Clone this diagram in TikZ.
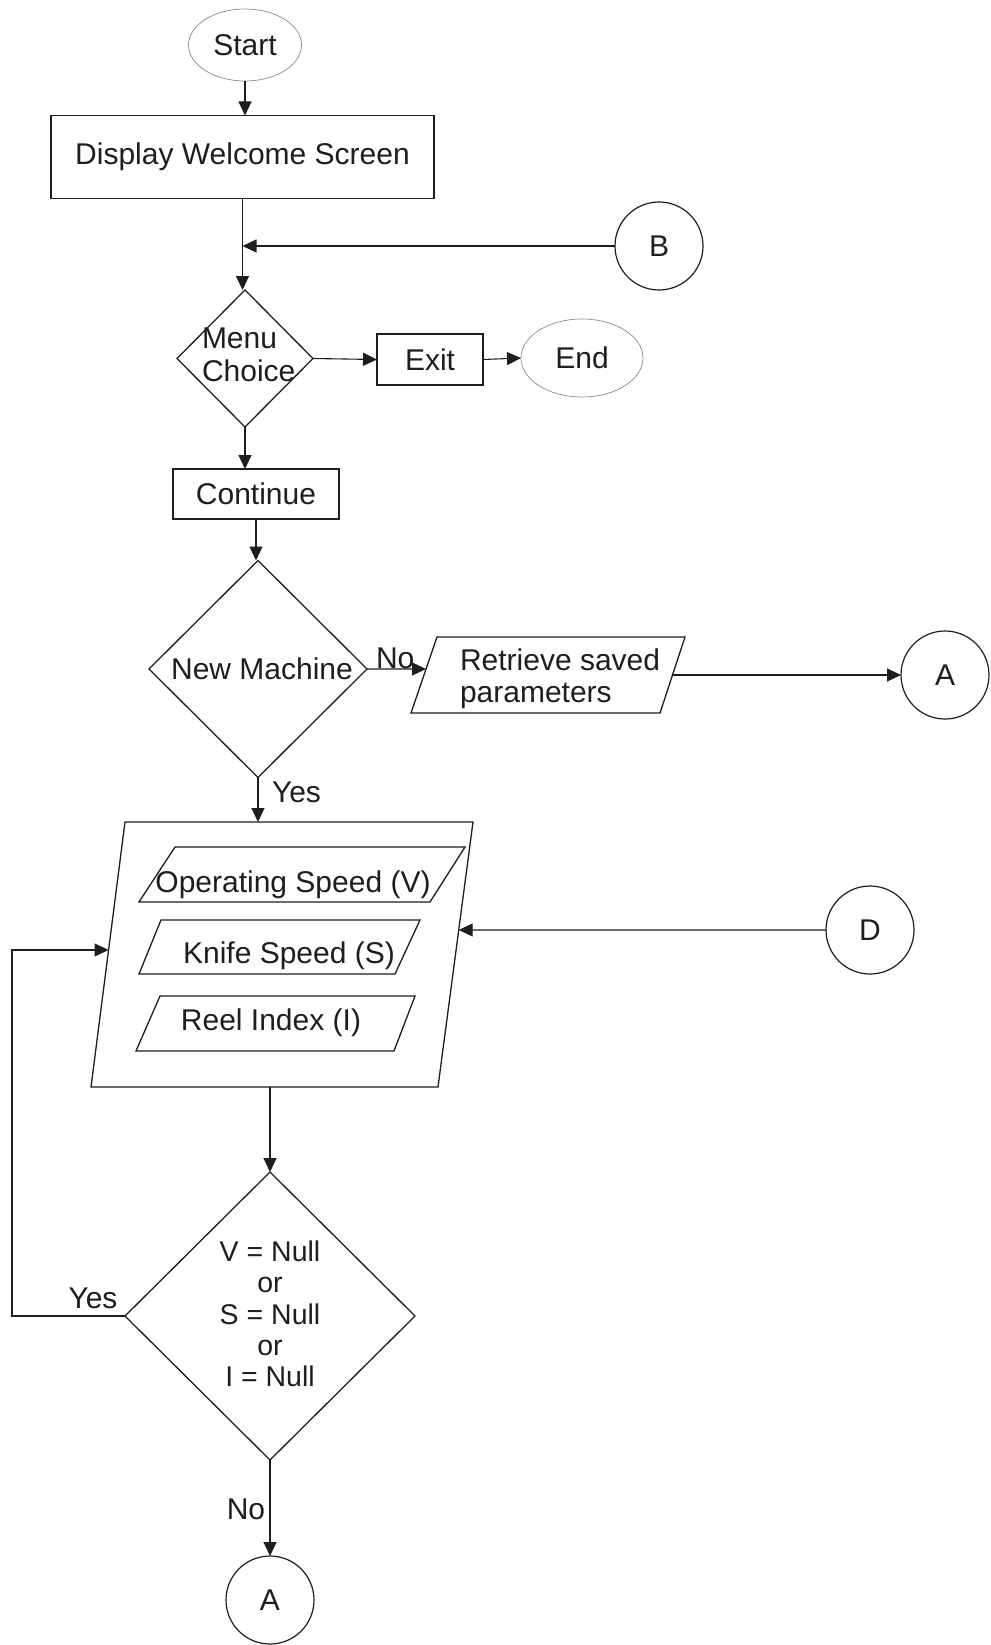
\documentclass[tikz,border=0pt]{standalone}
\usepackage{fontspec}
\setmainfont{Liberation Sans}
\usetikzlibrary{shapes.geometric,arrows.meta,calc}
\definecolor{linec}{RGB}{30,30,30}
\definecolor{txtc}{RGB}{30,30,30}
\definecolor{ovalc}{RGB}{140,140,140}
\newcommand\lbfont{\fontsize{30}{32.5}\selectfont}
\begin{document}
\begin{tikzpicture}[x=1pt,y=-1pt,
  every node/.style={inner sep=0pt, outer sep=0pt, text=txtc, font=\lbfont},
  boxnode/.style={draw=linec, line width=1.4pt, rectangle},
  oval/.style={draw=ovalc, line width=0.7pt, ellipse},
  decision/.style={draw=linec, line width=1.3pt, diamond},
  paraline/.style={draw=linec, line width=1.3pt, line join=miter},
  connc/.style={draw=linec, line width=1.2pt, circle, minimum size=88pt},
  conn/.style={draw=linec, line width=1.1pt},
  arr/.style={conn, -{Triangle[length=14pt, width=13pt]}}
]
\fill[white] (0,0) rectangle (990,1645);
\useasboundingbox (0,0) rectangle (990,1645);

% top part
\node[oval, minimum width=113pt, minimum height=72pt] (start) at (245,45) {Start};
\node[boxnode, minimum width=383pt, minimum height=83pt] (disp) at (242.5,157) {Display Welcome Screen};
\node[connc] (B) at (659,246) {B};
\node[decision, minimum width=136pt, minimum height=137pt] (menu) at (245,358.5) {};
\node[anchor=west, align=left] (menutxt) at (202,355) {Menu\\Choice};
\node[boxnode, minimum width=106pt, minimum height=51pt] (exit) at (430,359.5) {Exit};
\node[oval, minimum width=122pt, minimum height=78pt] (end) at (582,358) {End};
\node[boxnode, minimum width=166pt, minimum height=50pt] (cont) at (256,494) {Continue};

% new machine
\node[decision, minimum width=218pt, minimum height=217pt] (nm) at (258,669) {};
\node[anchor=base] (nmtxt) at (262,679) {New Machine};
\node[anchor=base west] (no1) at (376,668) {No};
\coordinate (ret-tl) at (437,637); \coordinate (ret-tr) at (685,637);
\coordinate (ret-br) at (660,713); \coordinate (ret-bl) at (411,713);
\draw[paraline] (ret-tl) -- (ret-tr) -- (ret-br) -- (ret-bl) -- cycle;
\node[anchor=west, align=left] (rettxt) at (460,678.5) {Retrieve saved\\parameters};
\node[connc] (A1) at (945,675) {A};
\node[anchor=base west] (yes1) at (272,802) {Yes};

% input block
\coordinate (big-tl) at (125,822); \coordinate (big-tr) at (473,822);
\coordinate (big-br) at (438,1087); \coordinate (big-bl) at (91,1087);
\draw[paraline] (big-tl) -- (big-tr) -- (big-br) -- (big-bl) -- cycle;
\coordinate (op-tl) at (175,847); \coordinate (op-tr) at (465,847);
\coordinate (op-br) at (430,902); \coordinate (op-bl) at (139,902);
\draw[paraline] (op-tl) -- (op-tr) -- (op-br) -- (op-bl) -- cycle;
\node[anchor=base] (optxt) at (293,892) {Operating Speed (V)};
\coordinate (kn-tl) at (161,920); \coordinate (kn-tr) at (420,920);
\coordinate (kn-br) at (395,974); \coordinate (kn-bl) at (139,974);
\draw[paraline] (kn-tl) -- (kn-tr) -- (kn-br) -- (kn-bl) -- cycle;
\node[anchor=base] (kntxt) at (289,963) {Knife Speed (S)};
\coordinate (re-tl) at (160,996); \coordinate (re-tr) at (415,996);
\coordinate (re-br) at (394,1051); \coordinate (re-bl) at (136,1051);
\draw[paraline] (re-tl) -- (re-tr) -- (re-br) -- (re-bl) -- cycle;
\node[anchor=base] (retxt) at (271,1030) {Reel Index (I)};
\node[connc] (D) at (870,930) {D};

% condition
\node[decision, minimum width=290pt, minimum height=288pt] (cond) at (270,1316) {};
\node[align=center, font=\fontsize{28.5}{31.3}\selectfont] (condtxt) at (270,1314) {V = Null\\or\\S = Null\\or\\I = Null};
\node[anchor=base] (yes2) at (93,1308) {Yes};
\node[anchor=base] (no2) at (246,1519) {No};
\node[connc] (A2) at (270,1600) {A};

\coordinate (retin) at ($(ret-tl)!0.421!(ret-bl)$);
\coordinate (retout) at ($(ret-tr)!0.5!(ret-br)$);
\coordinate (bigin) at ($(big-tl)!0.483!(big-bl)$);
\coordinate (bigd) at ($(big-tr)!0.4075!(big-br)$);
\coordinate (loopx) at (12,1316);

% connectors
\draw[arr] (start.south) -- (start.south |- disp.north);
\draw[arr] (disp.south) -- (disp.south |- menu.north);
\draw[arr] (B.west) -- (B.west -| disp.south);
\draw[arr] (menu.east) -- (exit.west);
\draw[arr] (exit.east) -- (end.west);
\draw[arr] (menu.south) -- (menu.south |- cont.north);
\draw[arr] (cont.south) -- (cont.south |- nm.north);
\draw[arr] (nm.east) -- (retin);
\draw[arr] (retout) -- (A1.west);
\draw[arr] (nm.south) -- (nm.south |- big-tl);
\draw[arr] (D.west) -- (bigd);
\draw[arr] (cond.north |- big-bl) -- (cond.north);
\draw[arr] (cond.south) -- (A2.north);
\draw[arr] (cond.west) -| (bigin -| loopx) -- (bigin);
\end{tikzpicture}
\end{document}
